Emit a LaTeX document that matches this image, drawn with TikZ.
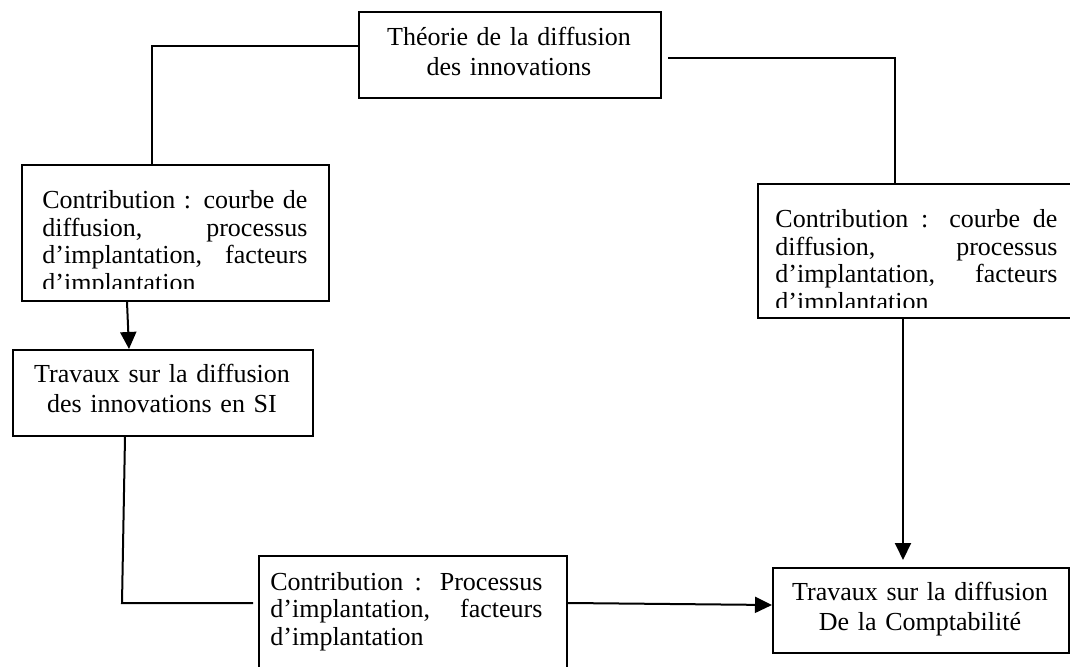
\documentclass[tikz,border=0pt]{standalone}
\usepackage{fontspec}
\setmainfont{Liberation Serif}
\usetikzlibrary{arrows.meta}
\begin{document}
\begin{tikzpicture}[x=0.5pt,y=-0.5pt,
  box/.style={draw, line width=1pt, inner sep=0pt, anchor=north west},
  ctxt/.style={inner sep=0pt, anchor=base, align=center, text width=150pt,
    font=\fontsize{13}{15}\selectfont},
  jtxt/.style={inner sep=0pt, anchor=base west, align=justify,
    font=\fontsize{13}{13.75}\selectfont},
  conn/.style={line width=1pt},
  arr/.style={line width=1pt, -{Triangle[length=8.5pt,width=8pt]}}]
\useasboundingbox (0,0) rectangle (1070,667);
\clip (0,0) rectangle (1070,667);
\fill[white] (0,0) rectangle (1070,667);

% boxes
\node[box, minimum width=151pt, minimum height=43pt] (theo) at (358,11) {};
\node[box, minimum width=153.5pt, minimum height=68pt] (lc) at (21,164) {};
\node[box, minimum width=150pt, minimum height=43pt] (ts) at (12,349) {};
\node[box, minimum width=154pt, minimum height=75pt] (bc) at (258,555) {};
\node[box, minimum width=148pt, minimum height=42.5pt] (rt) at (772,567) {};
\node[box, minimum width=164pt, minimum height=67pt] (rc) at (757,183) {};

% texts
\node[ctxt] (theot) at (509,46) {Théorie de la diffusion\\des innovations};
\node[ctxt] (tst) at (162,383) {Travaux sur la diffusion\\des innovations en SI};
\node[ctxt] (rtt) at (920,600) {Travaux sur la diffusion\\De la Comptabilité};
\begin{scope}
  \clip (21,164) rectangle (328,289);
  \node[jtxt, text width=132.5pt] (lct) at (42,209)
    {Contribution : courbe de\linebreak diffusion, processus\linebreak d’implantation, facteurs\linebreak d’implantation};
\end{scope}
\begin{scope}
  \clip (757,183) rectangle (1070,308);
  \node[jtxt, text width=141pt] (rct) at (775,228)
    {Contribution : courbe de\linebreak diffusion, processus\linebreak d’implantation, facteurs\linebreak d’implantation};
\end{scope}
\node[jtxt, text width=136pt] (bct) at (270,590)
  {Contribution : Processus\linebreak d’implantation, facteurs\linebreak d’implantation};

% connectors
\coordinate (k1) at (152,46);
\coordinate (k2) at (895,58);
\coordinate (k3a) at (127,0);
\coordinate (k3b) at (129,0);
\coordinate (k4a) at (125,0);
\coordinate (k4) at (122,603);
\coordinate (k6) at (0,605);
\coordinate (k5) at (903,0);
\draw[conn] (theo.west |- k1) -| (lc.north -| k1);
\draw[conn, shorten <=3pt] (theo.east |- k2) -| (rc.north -| k2);
\draw[arr] (lc.south -| k3a) -- (ts.north -| k3b);
\draw[conn, shorten >=2.5pt] (ts.south -| k4a) -- (k4) -- (bc.west |- k4);
\draw[arr] (bc.east |- k4) -- (rt.west |- k6);
\draw[arr, shorten >=3.5pt] (rc.south -| k5) -- (rt.north -| k5);
\end{tikzpicture}
\end{document}
